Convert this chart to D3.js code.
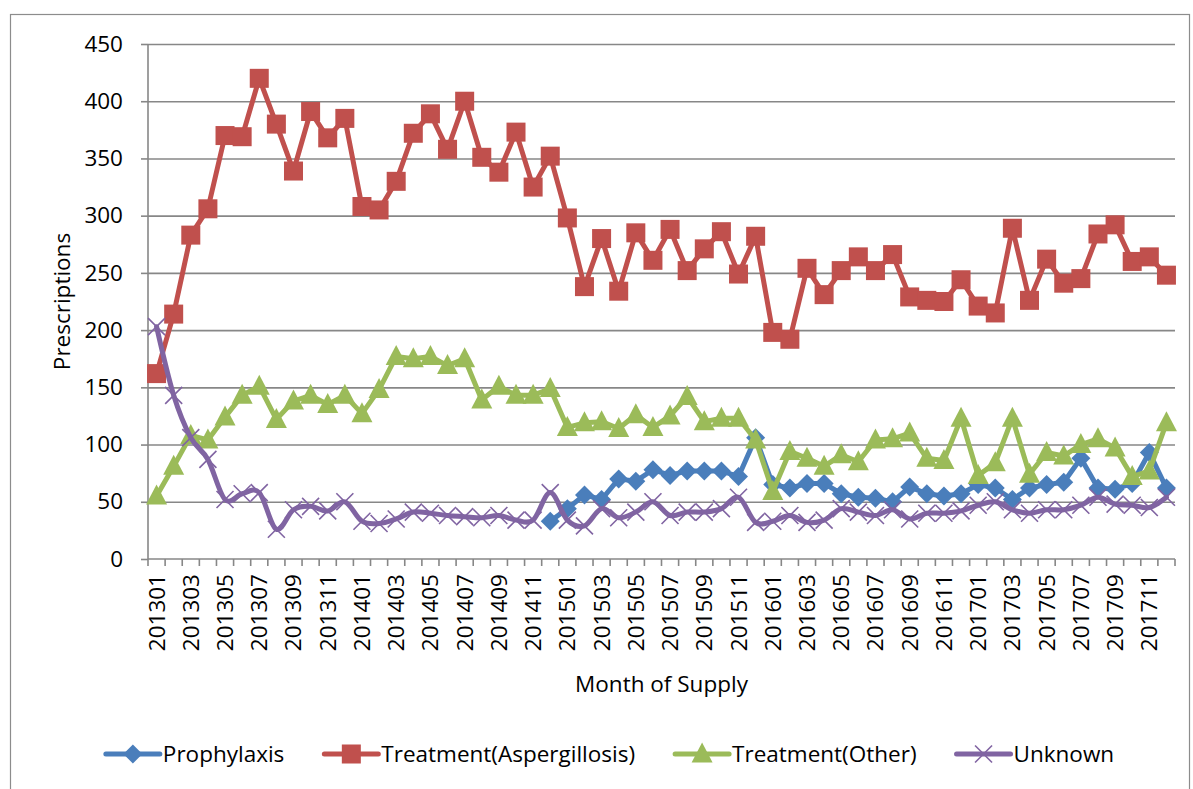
<!DOCTYPE html>
<html><head><meta charset="utf-8">
<script src="https://cdn.jsdelivr.net/npm/d3@7"></script>
<style>
body{margin:0;background:#fff}
svg{display:block}
text{font-family:"Open Sans",sans-serif;fill:#000}
</style>
</head><body>
<svg id="chart" width="1193" height="789"></svg>
<script>
const months = ["201301","201302","201303","201304","201305","201306","201307","201308","201309","201310","201311","201312",
"201401","201402","201403","201404","201405","201406","201407","201408","201409","201410","201411","201412",
"201501","201502","201503","201504","201505","201506","201507","201508","201509","201510","201511","201512",
"201601","201602","201603","201604","201605","201606","201607","201608","201609","201610","201611","201612",
"201701","201702","201703","201704","201705","201706","201707","201708","201709","201710","201711","201712"];

const prophylaxis = [null,null,null,null,null,null,null,null,null,null,null,null,
null,null,null,null,null,null,null,null,null,null,null,33,
44,56,52,70,68,78,73,77,77,77,72,106,
65,62,66,66,57,54,53,50,63,57,55,57,
65,62,52,62,65,67,88,62,61,66,93,62];

const treatmentAsp = [162,214,283,306,370,369,420,380,339,391,368,385,
308,305,330,372,389,358,400,351,338,373,325,352,
298,238,280,234,285,261,288,252,271,286,249,282,
198,192,254,231,252,264,252,266,229,226,225,244,
221,215,289,226,262,241,245,284,292,260,264,248];

const treatmentOther = [55,81,108,104,124,143,151,122,138,143,135,143,
127,148,177,175,177,169,175,139,151,143,143,149,
115,119,120,114,126,115,125,142,120,123,123,104,
59,94,88,81,91,85,104,105,110,88,86,123,
73,84,123,74,93,90,100,105,97,72,77,119];

const unknown = [203,143,106,87,52,57,58,26,43,46,42,50,
33,31,35,41,40,38,37,36,38,34,34,58,
34,29,44,36,41,50,38,41,41,44,54,32,
33,38,32,34,44,41,38,43,35,40,40,42,
47,50,43,40,43,43,47,54,48,47,45,54];

const yTicks = [0,50,100,150,200,250,300,350,400,450];
const xTickLabels = months.filter((m,i)=>i%2===0);

const seriesNames = ["Prophylaxis","Treatment(Aspergillosis)","Treatment(Other)","Unknown"];
const seriesColors = ["#4A7EBB","#C0504D","#9BBB59","#8064A2"];
const seriesMarkers = ["diamond","square","triangle","cross"];
const seriesValues = [prophylaxis, treatmentAsp, treatmentOther, unknown];
const seriesSmooth = [false,false,false,true];

const svg = d3.select("#chart");
const L=148, R=1175, T=44, B=559;
const x = d3.scaleBand().domain(months).range([L,R]).padding(0);
const y = d3.scaleLinear().domain([0,450]).range([B,T]);
const cx = m => x(m) + x.bandwidth()/2;
const gridColor = "#878787";

// outer border
svg.append("rect").attr("x",10.5).attr("y",14.5).attr("width",1179).attr("height",800)
  .attr("fill","none").attr("stroke","#8c8c8c").attr("stroke-width",1.2);

// gridlines
svg.append("g").attr("transform",`translate(${L},0)`)
  .call(d3.axisLeft(y).tickValues(yTicks.filter(v=>v>0)).tickSize(-(R-L)).tickFormat(""))
  .call(g=>g.select(".domain").remove())
  .call(g=>g.selectAll("line").attr("stroke",gridColor).attr("stroke-width",1.6));

// y axis
const ya = svg.append("g").attr("transform",`translate(${L},0)`)
  .call(d3.axisLeft(y).tickValues(yTicks).tickSize(7).tickPadding(18));
ya.select(".domain").attr("stroke",gridColor).attr("stroke-width",1.6).attr("d",`M0,${B}V${T}`);
ya.selectAll("line").attr("stroke",gridColor).attr("stroke-width",1.6);
ya.selectAll("text").attr("font-size","22.5px").attr("font-family","'Open Sans',sans-serif").attr("fill","#000");

// x axis line + boundary ticks
const xa = svg.append("g");
xa.append("line").attr("x1",L).attr("x2",R).attr("y1",B).attr("y2",B).attr("stroke",gridColor).attr("stroke-width",1.6);
const bounds = months.map(m=>x(m)).concat([R]);
xa.selectAll("line.tk").data(bounds).join("line").attr("class","tk")
  .attr("x1",d=>d).attr("x2",d=>d).attr("y1",B).attr("y2",B+7)
  .attr("stroke",gridColor).attr("stroke-width",1.6);
xa.selectAll("text.xl").data(xTickLabels).join("text").attr("class","xl")
  .attr("transform",d=>`translate(${cx(d)+8},${B+15}) rotate(-90)`)
  .attr("text-anchor","end").attr("font-size","22.5px").text(d=>d);

// axis titles
svg.append("text").attr("transform",`translate(70,${(T+B)/2}) rotate(-90)`)
  .attr("text-anchor","middle").attr("font-size","22.5px").text("Prescriptions");
svg.append("text").attr("x",(L+R)/2).attr("y",692)
  .attr("text-anchor","middle").attr("font-size","22.5px").text("Month of Supply");

function drawMarker(g, type, color, px, py){
  if(type==="diamond"){
    g.append("path").attr("d",`M${px},${py-9.5}L${px+9.5},${py}L${px},${py+9.5}L${px-9.5},${py}Z`).attr("fill",color);
  } else if(type==="square"){
    g.append("rect").attr("x",px-9.5).attr("y",py-9.5).attr("width",19).attr("height",19).attr("fill",color);
  } else if(type==="triangle"){
    g.append("path").attr("d",`M${px},${py-11.5}L${px+10.5},${py+8.5}L${px-10.5},${py+8.5}Z`).attr("fill",color);
  } else {
    g.append("path").attr("d",`M${px-8.5},${py-8.5}L${px+8.5},${py+8.5}M${px-8.5},${py+8.5}L${px+8.5},${py-8.5}`)
      .attr("stroke",color).attr("stroke-width",1.6).attr("fill","none");
  }
}

// series
seriesValues.forEach((vals,si)=>{
  const g = svg.append("g");
  const data = months.map((m,i)=>({m, v: vals[i]}));
  const line = d3.line().defined(d=>d.v!==null).x(d=>cx(d.m)).y(d=>y(d.v))
    .curve(seriesSmooth[si] ? d3.curveCatmullRom.alpha(0) : d3.curveLinear);
  g.append("path").datum(data).attr("d",line).attr("fill","none")
    .attr("stroke",seriesColors[si]).attr("stroke-width",5).attr("stroke-linejoin","round").attr("stroke-linecap","round");
  data.filter(d=>d.v!==null).forEach(d=>drawMarker(g, seriesMarkers[si], seriesColors[si], cx(d.m), y(d.v)));
});

// legend
const lg = svg.append("g");
const ly = 754;
const items = seriesNames.map((n,i)=>{
  const it = lg.append("g");
  it.append("line").attr("x1",0).attr("x2",54).attr("y1",0).attr("y2",0)
    .attr("stroke",seriesColors[i]).attr("stroke-width",5).attr("stroke-linecap","round");
  drawMarker(it, seriesMarkers[i], seriesColors[i], 27, 0);
  const t = it.append("text").attr("x",57).attr("y",0).attr("dy","0.35em").attr("font-size","22.5px").text(n);
  return {it, w: 57 + t.node().getComputedTextLength()};
});
const gap = 40;
const total = d3.sum(items, d=>d.w) + gap*(items.length-1);
let xs = 610 - total/2;
items.forEach(d=>{ d.it.attr("transform",`translate(${xs},${ly})`); xs += d.w + gap; });
</script>
</body></html>
